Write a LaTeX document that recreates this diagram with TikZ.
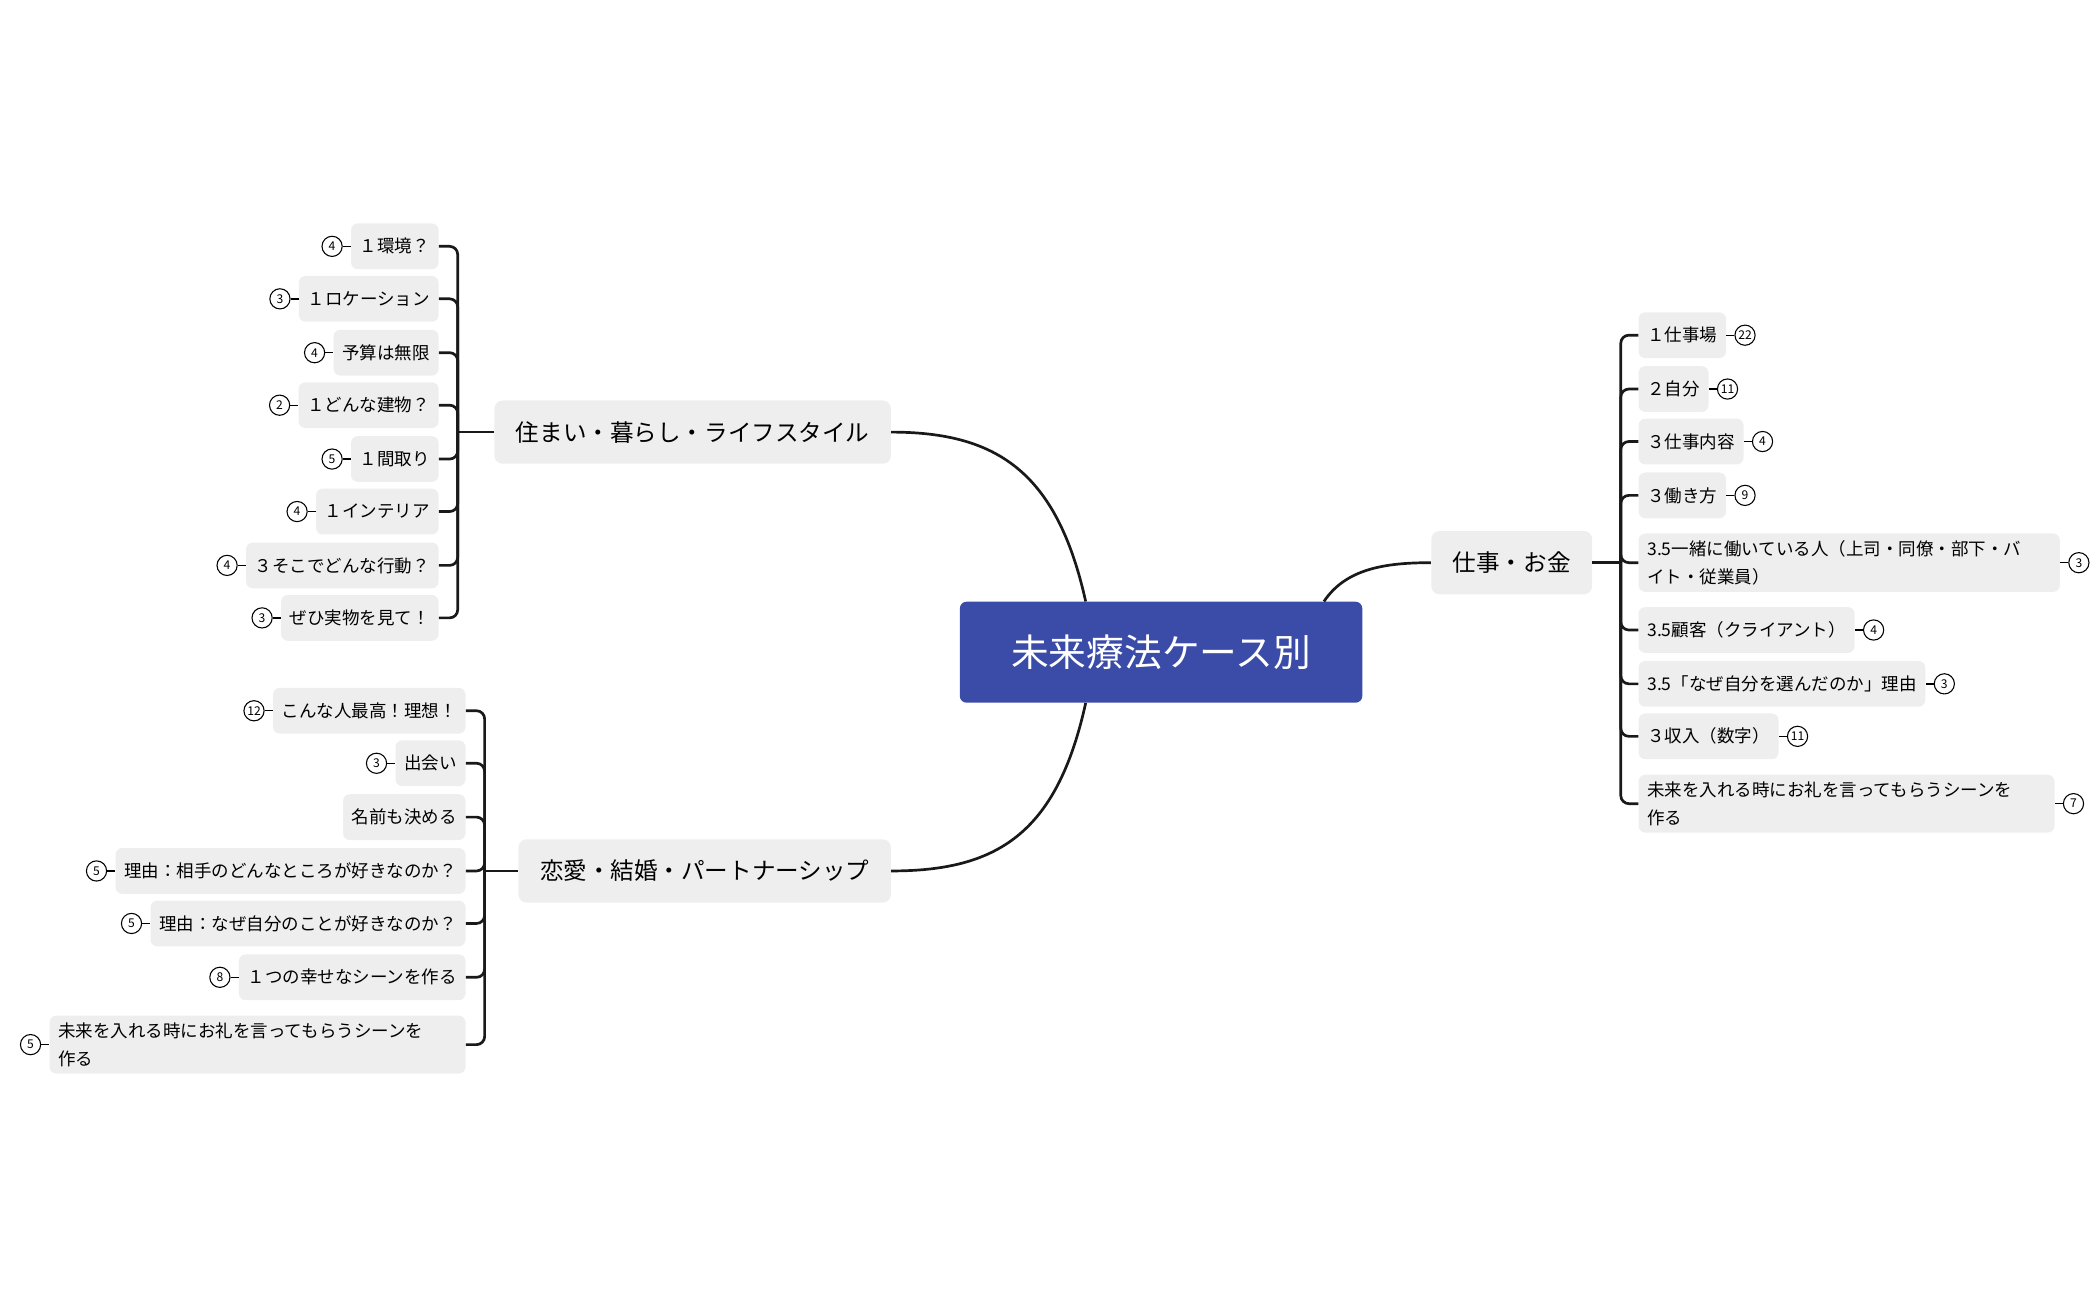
\documentclass[tikz,border=0pt]{standalone}
\usepackage{fontspec}
\setmainfont{Noto Sans CJK JP}
\begin{document}
\begin{tikzpicture}[x=1pt,y=-1pt,
  conn/.style={line width=2pt,black!90},
  root/.style={fill=rootblue,rounded corners=5pt,text=white,minimum width=299,minimum height=75,font=\fontsize{28}{34}\selectfont},
  branch/.style={fill=boxgray,rounded corners=6pt,minimum height=47,inner xsep=16,font=\fontsize{17.5}{22}\selectfont},
  kid/.style={fill=boxgray,rounded corners=5pt,minimum height=34,inner xsep=6.5,font=\fontsize{13}{21}\selectfont},
  kid2/.style={kid,text width=#1,align=left,inner ysep=5},
  num/.style={circle,draw,line width=0.8pt,minimum size=15,inner sep=0pt,font=\fontsize{9}{9}\selectfont},
  tie/.style={line width=1pt}]
\definecolor{rootblue}{HTML}{3A4BA8}
\definecolor{boxgray}{HTML}{EEEEEE}
\useasboundingbox (0,0) rectangle (1560,965);

\node[root] (root) at (862.5,484.5) {未来療法ケース別};
\node[branch,anchor=east] (b1) at (662,321) {住まい・暮らし・ライフスタイル};
\node[branch,anchor=east] (b2) at (662,647) {恋愛・結婚・パートナーシップ};
\node[branch,anchor=west] (b3) at (1063,418) {仕事・お金};

\draw[conn] ([xshift=-56]root.north) .. controls (785,350) and (740,321) .. (b1.east);
\draw[conn] ([xshift=-56]root.south) .. controls (785,620) and (740,647) .. (b2.east);
\draw[conn] ([xshift=121]root.north) .. controls (1000,422) and (1030,418) .. (b3.west);

\coordinate (s1) at (340,321);
\coordinate (s2) at (360,647);
\coordinate (s3) at (1204,418);
\draw[conn] (b1.west) -- (s1);
\draw[conn] (b2.west) -- (s2);
\draw[conn] (b3.east) -- (s3);

% left tree 1
\foreach \i/\y/\t/\n in {1/183/１環境？/4, 2/222/１ロケーション/3, 3/262/予算は無限/4, 4/301/１どんな建物？/2, 5/341/１間取り/5, 6/380/１インテリア/4, 7/420/３そこでどんな行動？/4, 8/459/ぜひ実物を見て！/3}{
  \node[kid,anchor=east] (a\i) at (326,\y) {\t};
  \node[num,anchor=east] (na\i) at ([xshift=-6]a\i.west) {\n};
  \draw[tie] (na\i) -- (a\i);
  \draw[conn,rounded corners=6pt] (a\i.east) -| (s1);
}

% left tree 2
\foreach \i/\y/\t/\n in {1/528/こんな人最高！理想！/12, 2/567/出会い/3, 4/647/理由：相手のどんなところが好きなのか？/5, 5/686/理由：なぜ自分のことが好きなのか？/5, 6/726/１つの幸せなシーンを作る/8}{
  \node[kid,anchor=east] (c\i) at (346,\y) {\t};
  \node[num,anchor=east] (nc\i) at ([xshift=-6]c\i.west) {\n};
  \draw[tie] (nc\i) -- (c\i);
  \draw[conn,rounded corners=6pt] (c\i.east) -| (s2);
}
\node[kid,anchor=east] (c3) at (346,607) {名前も決める};
\draw[conn,rounded corners=6pt] (c3.east) -| (s2);
\node[kid2=296,anchor=east] (c7) at (346,776) {未来を入れる時にお礼を言ってもらうシーンを\\作る};
\node[num,anchor=east] (nc7) at ([xshift=-6]c7.west) {5};
\draw[tie] (nc7) -- (c7);
\draw[conn,rounded corners=6pt] (c7.east) -| (s2);

% right tree
\foreach \i/\y/\t/\n in {1/249/１仕事場/22, 2/289/２自分/11, 3/328/３仕事内容/4, 4/368/３働き方/9, 6/468/3.5顧客（クライアント）/4, 7/508/3.5「なぜ自分を選んだのか」理由/3, 8/547/３収入（数字）/11}{
  \node[kid,anchor=west] (r\i) at (1217,\y) {\t};
  \node[num,anchor=west] (nr\i) at ([xshift=6]r\i.east) {\n};
  \draw[tie] (nr\i) -- (r\i);
  \draw[conn,rounded corners=6pt] (r\i.west) -| (s3);
}
\node[kid2=300,anchor=west] (r5) at (1217,418) {3.5一緒に働いている人（上司・同僚・部下・バ\\イト・従業員）};
\node[num,anchor=west] (nr5) at ([xshift=6]r5.east) {3};
\draw[tie] (nr5) -- (r5);
\draw[conn,rounded corners=6pt] (r5.west) -| (s3);
\node[kid2=296,anchor=west] (r9) at (1217,597) {未来を入れる時にお礼を言ってもらうシーンを\\作る};
\node[num,anchor=west] (nr9) at ([xshift=6]r9.east) {7};
\draw[tie] (nr9) -- (r9);
\draw[conn,rounded corners=6pt] (r9.west) -| (s3);
\end{tikzpicture}
\end{document}
